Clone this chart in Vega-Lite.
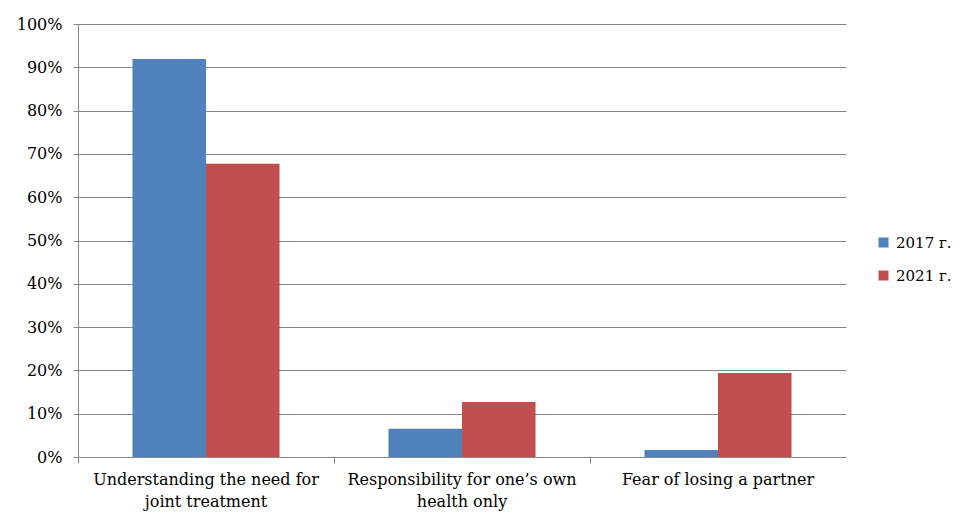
{
  "$schema": "https://vega.github.io/schema/vega-lite/v6.json",
  "width": 768,
  "height": 433,
  "autosize": {"type": "none"},
  "padding": {"left": 78, "top": 24, "right": 126, "bottom": 69},
  "background": "white",
  "config": {
    "font": "DejaVu Serif",
    "view": {"stroke": null},
    "axis": {
      "labelFont": "DejaVu Serif",
      "labelFontSize": 16,
      "labelColor": "#000000",
      "domainColor": "#868686",
      "tickColor": "#868686",
      "gridColor": "#868686",
      "labelOverlap": false,
      "title": null
    }
  },
  "data": {
    "values": [
      {"reason": "Understanding the need for joint treatment", "year": "2017 г.", "share": 0.919},
      {"reason": "Understanding the need for joint treatment", "year": "2021 г.", "share": 0.677},
      {"reason": "Responsibility for one’s own health only", "year": "2017 г.", "share": 0.065},
      {"reason": "Responsibility for one’s own health only", "year": "2021 г.", "share": 0.127},
      {"reason": "Fear of losing a partner", "year": "2017 г.", "share": 0.016},
      {"reason": "Fear of losing a partner", "year": "2021 г.", "share": 0.194}
    ]
  },
  "mark": {"type": "bar"},
  "encoding": {
    "x": {
      "field": "reason",
      "type": "nominal",
      "sort": null,
      "scale": {"paddingInner": 0, "paddingOuter": 0},
      "axis": {
        "labelAngle": 0,
        "bandPosition": 0,
        "tickSize": 6,
        "labelPadding": 8,
        "labelBaseline": "top",
        "labelLineHeight": 22,
        "labelExpr": "datum.value == 'Understanding the need for joint treatment' ? ['Understanding the need for', 'joint treatment'] : datum.value == 'Responsibility for one’s own health only' ? ['Responsibility for one’s own', 'health only'] : datum.value",
        "labelLimit": 300
      }
    },
    "xOffset": {
      "field": "year",
      "type": "nominal",
      "scale": {"paddingInner": 0, "paddingOuter": 0.741}
    },
    "y": {
      "field": "share",
      "type": "quantitative",
      "scale": {"domain": [0, 1]},
      "axis": {
        "format": ".0%",
        "values": [0, 0.1, 0.2, 0.3, 0.4, 0.5, 0.6, 0.7, 0.8, 0.9, 1],
        "tickSize": 5,
        "labelPadding": 11,
        "grid": true
      }
    },
    "color": {
      "field": "year",
      "type": "nominal",
      "scale": {"range": ["#4F81BD", "#C0504D"]},
      "legend": {
        "title": null,
        "orient": "none",
        "legendX": 798,
        "legendY": 211,
        "symbolType": "square",
        "symbolSize": 100,
        "symbolStrokeWidth": 0,
        "labelFont": "DejaVu Serif",
        "labelFontSize": 15,
        "labelColor": "#000000",
        "rowPadding": 17,
        "labelOffset": 5
      }
    }
  }
}
